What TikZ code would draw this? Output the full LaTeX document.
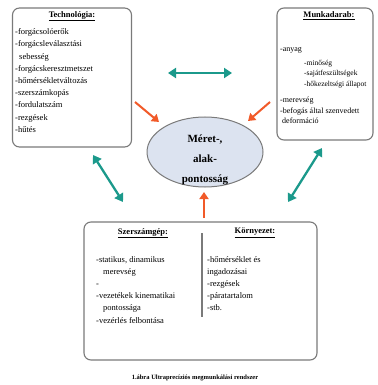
\documentclass[tikz,border=0pt]{standalone}
\usepackage{fontspec}
\setmainfont{Liberation Serif}
\usetikzlibrary{arrows.meta,shapes.geometric}
\definecolor{tealarrow}{HTML}{1B998B}
\definecolor{orangearrow}{HTML}{F15A29}
\definecolor{boxgray}{HTML}{7A7A7A}
\definecolor{ellfill}{HTML}{DCE3F0}

\begin{document}
\begin{tikzpicture}[x=1pt, y=-1pt,
  box/.style={draw=boxgray, line width=1.1pt, rounded corners=7pt, fill=white, inner sep=0pt},
  title/.style={font=\fontsize{8.5}{10}\selectfont\bfseries, inner sep=0pt},
  list/.style={font=\fontsize{8.5}{12.2}\selectfont, align=left, anchor=north west, inner sep=0pt},
  sublist/.style={font=\fontsize{8}{10.5}\selectfont, align=left, anchor=north west, inner sep=0pt},
  twoway/.style={{Triangle[length=8pt,width=10pt]}-{Triangle[length=8pt,width=10pt]}, draw=tealarrow, line width=2.3pt},
  oneway/.style={-{Triangle[length=7pt,width=9pt]}, draw=orangearrow, line width=2pt}]
\useasboundingbox (0,0) rectangle (377,385);
% boxes
\node[box, minimum width=119pt, minimum height=139pt] (tech) at (72,77.5) {};
\node[box, minimum width=96pt, minimum height=132pt] (munka) at (325,74) {};
\node[box, minimum width=233pt, minimum height=138pt] (gep) at (200.5,291) {};
\node[ellipse, draw=boxgray, line width=1pt, fill=ellfill, minimum width=116pt, minimum height=70pt, inner sep=0pt] (meret) at (205,152) {};
\node[align=center, inner sep=0pt, font=\fontsize{11}{20}\selectfont\bfseries] (meretT) at (205,160) {Méret-,\\alak-\\pontosság};
% Technologia
\node[title] (techT) at (72,16) {\underline{Technológia:}};
\node[list] (techL) at (15,28.5) {-forgácsolóerők\\-forgácsleválasztási\\\hspace*{4pt}sebesség\\-forgácskeresztmetszet\\-hőmérsékletváltozás\\-szerszámkopás\\-fordulatszám\\-rezgések\\-hűtés};
% Munkadarab
\node[title] (munkaT) at (329,16) {\underline{Munkadarab:}};
\node[sublist] (munkaA) at (280,47) {-anyag};
\node[sublist, font=\fontsize{7.5}{10.5}\selectfont] (munkaB) at (304,60) {-minőség\\-sajátfeszültségek\\-hőkezeltségi állapot};
\node[sublist] (munkaC) at (280,97) {-merevség\\-befogás által szenvedett\\\hspace*{2pt}deformáció};
% Szerszamgep, Kornyezet
\node[title] (gepT) at (143,233) {\underline{Szerszámgép:}};
\node[title] (kornyT) at (255,233) {\underline{Környezet:}};
\node[list] (gepL) at (96,256) {-statikus, dinamikus\\\hspace*{7pt}merevség\\-\\-vezetékek kinematikai\\\hspace*{7pt}pontossága\\-vezérlés felbontása};
\node[list] (kornyL) at (207,256) {-hőmérséklet és\\ingadozásai\\-rezgések\\-páratartalom\\-stb.};
\coordinate (divA) at (202,233);
\coordinate (divB) at (202,317);
\draw [boxgray, line width=1.3pt] (divA) -- (divB);
% arrows
\coordinate (hA) at (168,73);
\coordinate (hB) at (232,73);
\coordinate (lA) at (93,155);
\coordinate (lB) at (123,202);
\coordinate (rA) at (322,148);
\coordinate (rB) at (288,202);
\coordinate (o1) at (135,102);
\coordinate (o1e) at (159,122);
\coordinate (o2) at (270,102);
\coordinate (o2e) at (248,121);
\coordinate (o3) at (204,218);
\coordinate (o3e) at (204,192);
\draw [twoway] (hA) -- (hB);
\draw [twoway] (lA) -- (lB);
\draw [twoway] (rA) -- (rB);
\draw [oneway] (o1) -- (o1e);
\draw [oneway] (o2) -- (o2e);
\draw [oneway] (o3) -- (o3e);
% caption
\node[font=\fontsize{6.5}{8}\selectfont\bfseries, inner sep=0pt] (cap) at (195,378) {1.ábra Ultraprecíziós megmunkálási rendszer};
\end{tikzpicture}
\end{document}
